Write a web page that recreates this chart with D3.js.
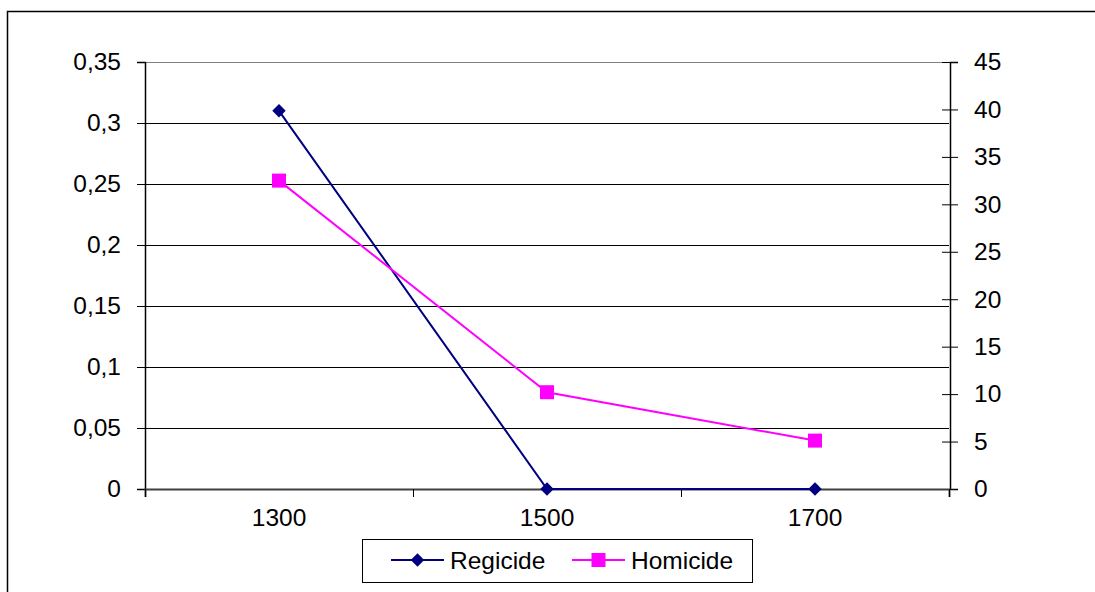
<!DOCTYPE html>
<html>
<head>
<meta charset="utf-8">
<script src="https://cdn.jsdelivr.net/npm/d3@7"></script>
<style>
  body { margin: 0; background: #fff; }
  svg { display: block; font-family: "Liberation Sans", Arial, sans-serif; }
</style>
</head>
<body>
<script>
// Data
const categories = ['1300', '1500', '1700']
const regicide = [0.31, 0, 0]        // left axis
const homicide = [32.5, 10.2, 5.1]   // right axis
const leftTicks = [0, 0.05, 0.1, 0.15, 0.2, 0.25, 0.3, 0.35]
const leftLabels = ['0', '0,05', '0,1', '0,15', '0,2', '0,25', '0,3', '0,35']
const rightTicks = [0, 5, 10, 15, 20, 25, 30, 35, 40, 45]

// Layout
const W = 1095, H = 592
const plot = { left: 145, right: 949, top: 62, bottom: 489 }
const navy = '#000080', magenta = '#ff00ff'
const fontSize = '24.5px'

const svg = d3.select('body').append('svg')
  .attr('width', W)
  .attr('height', H)

// Outer frame
svg.append('rect')
  .attr('x', 7.5).attr('y', 11.5)
  .attr('width', 1200).attr('height', 700)
  .attr('fill', 'none')
  .attr('stroke', '#000')
  .attr('stroke-width', 1.5)

// Scales
const x = d3.scaleBand().domain(categories).range([plot.left, plot.right]).padding(0)
const xc = d => x(d) + x.bandwidth() / 2
const yL = d3.scaleLinear().domain([0, 0.35]).range([plot.bottom, plot.top])
const yR = d3.scaleLinear().domain([0, 45]).range([plot.bottom, plot.top])

// Gridlines
svg.append('g')
  .selectAll('line')
  .data(leftTicks.filter(t => t > 0))
  .enter().append('line')
  .attr('x1', plot.left).attr('x2', plot.right)
  .attr('y1', d => Math.round(yL(d)) + 0.5)
  .attr('y2', d => Math.round(yL(d)) + 0.5)
  .attr('stroke', d => d === 0.35 ? '#808080' : '#000')
  .attr('stroke-width', 1)

// Left axis
const leftAxis = svg.append('g')
  .attr('transform', `translate(${plot.left},0)`)
  .call(d3.axisLeft(yL).tickValues(leftTicks).tickSize(8).tickPadding(16)
    .tickFormat((d, i) => leftLabels[i]))
leftAxis.select('.domain').attr('stroke', '#000').attr('stroke-width', 1.5)
leftAxis.selectAll('.tick line').attr('stroke', '#000')
leftAxis.selectAll('.tick text')
  .attr('font-size', fontSize).attr('fill', '#000')
  .attr('font-family', '"Liberation Sans", Arial, sans-serif')

// Right axis (ticks cross the axis line)
const rightAxis = svg.append('g')
  .attr('transform', `translate(${plot.right + 1},0)`)
  .call(d3.axisRight(yR).tickValues(rightTicks).tickSize(8).tickPadding(16))
rightAxis.select('.domain').attr('stroke', '#000').attr('stroke-width', 1.5)
rightAxis.selectAll('.tick line').attr('x1', -8).attr('stroke', '#000')
rightAxis.selectAll('.tick text')
  .attr('font-size', fontSize).attr('fill', '#000')
  .attr('font-family', '"Liberation Sans", Arial, sans-serif')

// Bottom axis: boundary ticks + centred labels
const xEdges = d3.scaleLinear().domain([0, categories.length]).range([plot.left, plot.right])
const bottomTicks = svg.append('g')
  .attr('transform', `translate(0,${plot.bottom})`)
  .call(d3.axisBottom(xEdges).tickValues(d3.range(categories.length + 1)).tickSize(8).tickFormat(''))
bottomTicks.select('.domain').attr('stroke', '#404040').attr('stroke-width', 2)
bottomTicks.selectAll('.tick line').attr('stroke', '#000')

const bottomLabels = svg.append('g')
  .attr('transform', `translate(0,${plot.bottom})`)
  .call(d3.axisBottom(x).tickSize(0).tickPadding(20))
bottomLabels.select('.domain').remove()
bottomLabels.selectAll('.tick text')
  .attr('font-size', fontSize).attr('fill', '#000')
  .attr('font-family', '"Liberation Sans", Arial, sans-serif')

// Lines
const lineL = d3.line().x((d, i) => xc(categories[i])).y(d => yL(d))
const lineR = d3.line().x((d, i) => xc(categories[i])).y(d => yR(d))

svg.append('path')
  .datum(regicide)
  .attr('d', lineL)
  .attr('fill', 'none')
  .attr('stroke', navy)
  .attr('stroke-width', 2)

svg.append('path')
  .datum(homicide)
  .attr('d', lineR)
  .attr('fill', 'none')
  .attr('stroke', magenta)
  .attr('stroke-width', 2)

// Markers
const diamond = d3.symbol().type(d3.symbolDiamond2).size(115)

svg.selectAll('.reg')
  .data(regicide)
  .enter().append('path')
  .attr('class', 'reg')
  .attr('d', diamond)
  .attr('transform', (d, i) => `translate(${xc(categories[i])},${yL(d)})`)
  .attr('fill', navy)

svg.selectAll('.hom')
  .data(homicide)
  .enter().append('rect')
  .attr('class', 'hom')
  .attr('x', (d, i) => xc(categories[i]) - 7)
  .attr('y', d => yR(d) - 7)
  .attr('width', 14).attr('height', 14)
  .attr('fill', magenta)

// Legend
const legend = svg.append('g').attr('id', 'legend')
legend.append('rect')
  .attr('x', 362.5).attr('y', 539.5)
  .attr('width', 390).attr('height', 43)
  .attr('fill', '#fff')
  .attr('stroke', '#000')
  .attr('stroke-width', 1)

const legendData = [
  { name: 'Regicide', color: navy, x0: 391, marker: 'diamond' },
  { name: 'Homicide', color: magenta, x0: 572, marker: 'square' }
]
const ly = 560

legendData.forEach(d => {
  legend.append('line')
    .attr('x1', d.x0).attr('x2', d.x0 + 53)
    .attr('y1', ly).attr('y2', ly)
    .attr('stroke', d.color).attr('stroke-width', 2)
  if (d.marker === 'diamond') {
    legend.append('path')
      .attr('d', diamond)
      .attr('transform', `translate(${d.x0 + 26.5},${ly})`)
      .attr('fill', d.color)
  } else {
    legend.append('rect')
      .attr('x', d.x0 + 26.5 - 7).attr('y', ly - 7)
      .attr('width', 14).attr('height', 14)
      .attr('fill', d.color)
  }
  legend.append('text')
    .attr('x', d.x0 + 59)
    .attr('y', ly)
    .attr('dy', '0.35em')
    .attr('font-size', fontSize)
    .attr('fill', '#000')
    .text(d.name)
})
</script>
</body>
</html>
